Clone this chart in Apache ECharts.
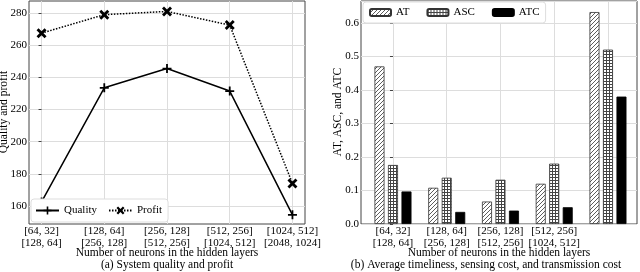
<!DOCTYPE html>
<html><head><meta charset="utf-8">
<script src="https://cdn.jsdelivr.net/npm/echarts@6/dist/echarts.min.js"></script>
<style>html,body{margin:0;padding:0;background:#fff}#c{width:640px;height:272px}</style>
</head><body><div id="c"></div>
<script>
const categories = ['[64, 32]\n[128, 64]', '[128, 64]\n[256, 128]', '[256, 128]\n[512, 256]', '[512, 256]\n[1024, 512]', '[1024, 512]\n[2048, 1024]'];
const quality = [162.5, 233.5, 245.5, 231.5, 154.5];
const profit = [267.5, 279, 281, 272.5, 174];
const leftTicks = [160, 180, 200, 220, 240, 260, 280];
const at = [0.47, 0.108, 0.067, 0.12, 0.632];
const asc = [0.176, 0.138, 0.132, 0.18, 0.52];
const atc = [0.097, 0.036, 0.04, 0.05, 0.38];
const xName = 'Number of neurons in the hidden layers';
const yNameLeft = 'Quality and profit';
const yNameRight = 'AT, ASC, and ATC';
const captionA = '(a) System quality and profit';
const captionB = '(b) Average timeliness, sensing cost, and transmission cost';
const catIdx = categories.map((_, i) => i);

function hatch() {
  const c = document.createElement('canvas'); c.width = 4; c.height = 4;
  const g = c.getContext('2d');
  g.fillStyle = '#fff'; g.fillRect(0, 0, 4, 4);
  g.strokeStyle = '#333'; g.lineWidth = 0.8;
  g.beginPath(); g.moveTo(-1, 5); g.lineTo(5, -1); g.stroke();
  return { image: c, repeat: 'repeat' };
}
function mesh() {
  const c = document.createElement('canvas'); c.width = 3; c.height = 3;
  const g = c.getContext('2d');
  g.fillStyle = '#fff'; g.fillRect(0, 0, 3, 3);
  g.fillStyle = '#444'; g.fillRect(0, 0, 3, 1); g.fillRect(0, 0, 1, 3);
  return { image: c, repeat: 'repeat' };
}
const serif = 'Liberation Serif';
const txt = { fontFamily: serif, fontSize: 11, color: '#000' };
const font = '11.5px "Liberation Serif"';
const plusSym = 'path://M4,0H6V4H10V6H6V10H4V6H0V4H4Z';
const xSym = 'path://M0,2L2,0L5,3L8,0L10,2L7,5L10,8L8,10L5,7L2,10L0,8L3,5Z';

function label(text, x, y, rot) {
  return { type: 'text', x, y, rotation: rot || 0,
    style: { text, font, fill: '#000', align: 'center', verticalAlign: 'middle' } };
}

const chart = echarts.init(document.getElementById('c'), null, { renderer: 'canvas' });
chart.setOption({
  animation: false,
  textStyle: { fontFamily: serif },
  grid: [
    { left: 29, right: 335, top: 1, bottom: 48, show: true, borderColor: '#444', borderWidth: 1, containLabel: false, outerBoundsMode: 'none' },
    { left: 361, right: 3, top: 1, bottom: 48, show: true, borderColor: '#444', borderWidth: 1, containLabel: false, outerBoundsMode: 'none' }
  ],
  xAxis: [
    { type: 'value', gridIndex: 0, min: -0.2, max: 4.2,
      axisLine: { show: false },
      axisTick: { show: false, customValues: catIdx },
      axisLabel: { customValues: catIdx, formatter: v => categories[v], margin: 1, lineHeight: 12.3, ...txt },
      splitLine: { show: true, lineStyle: { color: '#ddd', width: 1 } } },
    { type: 'value', gridIndex: 1, min: -0.595, max: 4.54,
      axisLine: { show: false },
      axisTick: { show: false, customValues: catIdx },
      axisLabel: { customValues: catIdx, formatter: v => categories[v], margin: 1, lineHeight: 12.3, ...txt },
      splitLine: { show: true, lineStyle: { color: '#ddd', width: 1 } } }
  ],
  yAxis: [
    { type: 'value', gridIndex: 0, min: 148.8, max: 287.5,
      axisLine: { show: false },
      axisTick: { show: true, customValues: leftTicks, length: 3, lineStyle: { color: '#444' } },
      axisLabel: { customValues: leftTicks, margin: 2, ...txt },
      splitLine: { show: true, lineStyle: { color: '#ddd', width: 1 } } },
    { type: 'value', gridIndex: 1, min: 0, max: 0.665, interval: 0.1,
      axisLine: { show: false },
      axisTick: { show: true, length: 3, lineStyle: { color: '#444' } },
      axisLabel: { showMaxLabel: false, margin: 2, formatter: v => v.toFixed(1), ...txt },
      splitLine: { show: true, lineStyle: { color: '#ddd', width: 1 } } }
  ],
  legend: [
    { data: ['Quality', 'Profit'], left: 31, top: 199, orient: 'horizontal',
      padding: [6, 6, 6, 4], itemWidth: 23, itemHeight: 10, itemGap: 11,
      backgroundColor: '#fff', borderColor: '#ddd', borderWidth: 1, borderRadius: 3,
      textStyle: { ...txt } },
    { data: ['AT', 'ASC', 'ATC'], left: 363, top: 2, orient: 'horizontal',
      padding: [5, 6, 5, 6], itemWidth: 21, itemHeight: 7, itemGap: 17,
      backgroundColor: '#fff', borderColor: '#ddd', borderWidth: 1, borderRadius: 3,
      textStyle: { ...txt } }
  ],
  series: [
    { name: 'Quality', type: 'line', xAxisIndex: 0, yAxisIndex: 0,
      data: quality.map((v, i) => [i, v]),
      symbol: plusSym, symbolSize: 9,
      lineStyle: { color: '#000', width: 1.5 }, itemStyle: { color: '#000' } },
    { name: 'Profit', type: 'line', xAxisIndex: 0, yAxisIndex: 0,
      data: profit.map((v, i) => [i, v]),
      symbol: xSym, symbolSize: 10,
      lineStyle: { color: '#000', width: 1.5, type: [1.5, 1.5] }, itemStyle: { color: '#000' } },
    { name: 'AT', type: 'bar', xAxisIndex: 1, yAxisIndex: 1,
      data: at.map((v, i) => [i, v]), barWidth: 10, barGap: '35%',
      itemStyle: { color: hatch(), borderColor: '#333', borderWidth: 0.8 } },
    { name: 'ASC', type: 'bar', xAxisIndex: 1, yAxisIndex: 1,
      data: asc.map((v, i) => [i, v]), barWidth: 10, barGap: '35%',
      itemStyle: { color: mesh(), borderColor: '#333', borderWidth: 0.8 } },
    { name: 'ATC', type: 'bar', xAxisIndex: 1, yAxisIndex: 1,
      data: atc.map((v, i) => [i, v]), barWidth: 10, barGap: '35%',
      itemStyle: { color: '#000', borderColor: '#000', borderWidth: 0.8 } }
  ],
  graphic: [
    label(xName, 167, 253),
    label(xName, 499, 253),
    label(yNameLeft, 4, 112, Math.PI / 2),
    label(yNameRight, 338, 112, Math.PI / 2),
    label(captionA, 167, 265),
    label(captionB, 486, 265)
  ]
});
</script></body></html>
